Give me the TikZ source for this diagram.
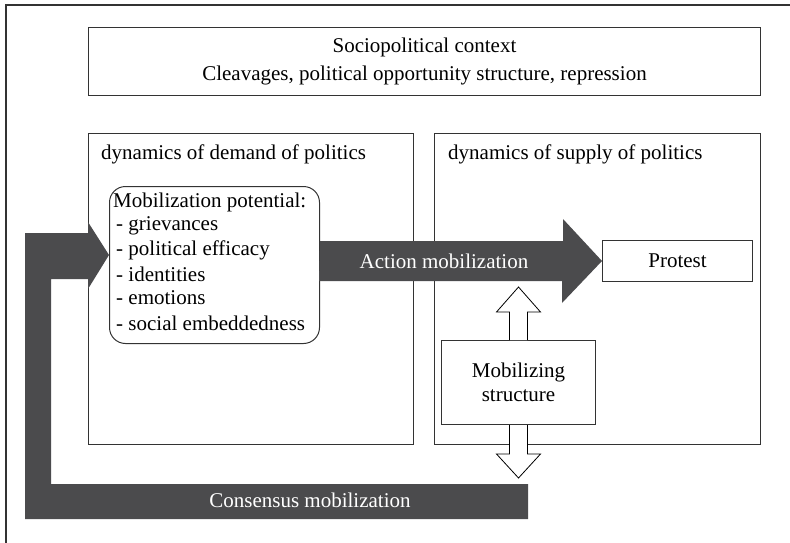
\documentclass[tikz,border=0pt]{standalone}
\usepackage{fontspec}
\setmainfont{Liberation Serif}
\usepackage{tikz}
\usetikzlibrary{calc}
\definecolor{darkfill}{HTML}{4B4B4D}
\definecolor{linegray}{HTML}{333333}
\newcommand{\txtsize}{\fontsize{21}{24.5}\selectfont}

\begin{document}
\begin{tikzpicture}[x=1pt, y=-1pt,
    box/.style={draw=linegray, line width=1pt, rectangle, anchor=north west, inner sep=0pt, font=\txtsize},
    label/.style={anchor=west, inner sep=0pt, font=\txtsize},
    whitetext/.style={text=white, inner sep=0pt, font=\txtsize},
    bigarrow/.style={fill=darkfill},
    hollow/.style={draw=black, fill=white, line width=0.8pt, line join=miter}]
    \useasboundingbox (0,0) rectangle (790,543);
    \clip (0,0) rectangle (790,543);
    \draw[linegray, line width=2pt] (6,5) rectangle (820,570);

    % Context
    \node[box, minimum width=672pt, minimum height=68pt, align=center] (context) at (88,27)
        {Sociopolitical context\\[4pt]Cleavages, political opportunity structure, repression};

    % Demand and supply
    \node[box, minimum width=325pt, minimum height=311pt] (demand) at (88,133) {};
    \node[label] (demand-title) at (101,154) {dynamics of demand of politics};
    \node[box, minimum width=326pt, minimum height=311pt] (supply) at (434,133) {};
    \node[label] (supply-title) at (448,154) {dynamics of supply of politics};

    % Mobilization potential
    \node[box, rounded corners=16pt, minimum width=210pt, minimum height=157pt] (pot) at (109,186) {};
    \node[label] (pot-1) at (113,202) {Mobilization potential:};
    \node[label] (pot-2) at (116,226) {- grievances};
    \node[label] (pot-3) at (116,250) {- political efficacy};
    \node[label] (pot-4) at (116,274) {- identities};
    \node[label] (pot-5) at (116,298) {- emotions};
    \node[label] (pot-6) at (116,323) {- social embeddedness};

    % Protest and mobilizing structure
    \node[box, minimum width=150pt, minimum height=41pt] (protest) at (602,240) {Protest};
    \node[box, minimum width=154pt, minimum height=84pt, align=center] (structure) at (441,340)
        {Mobilizing\\structure};

    % Action mobilization
    \fill[bigarrow] (pot.east |- protest.west) ++(0,-20) -- ++(243,0) -- ++(0,-22)
        -- (protest.west) -- ++(-40,42) -- ++(0,-22) -- ++(-243,0) -- cycle;
    \node[whitetext] (action) at (444,261) {Action mobilization};

    % Consensus mobilization
    \fill[bigarrow] ($(pot.west)+(0,-10)$) -- ++(-21,-33) -- ++(0,11) -- ++(-63,0)
        -- ++(0,286) -- ++(503,0) -- ++(0,-35) -- ++(-477,0) -- ++(0,-205)
        -- ++(37,0) -- ++(0,10) -- cycle;
    \node[whitetext] (consensus) at (310,500) {Consensus mobilization};

    % Up and down arrows
    \draw[hollow] (structure.north) ++(-9,0) -- ++(0,-28) -- ++(-13,0) -- ++(22,-25)
        -- ++(22,25) -- ++(-13,0) -- ++(0,28);
    \draw[hollow] (structure.south) ++(-9,0) -- ++(0,29) -- ++(-13,0) -- ++(22,24)
        -- ++(22,-24) -- ++(-13,0) -- ++(0,-29);
\end{tikzpicture}
\end{document}
